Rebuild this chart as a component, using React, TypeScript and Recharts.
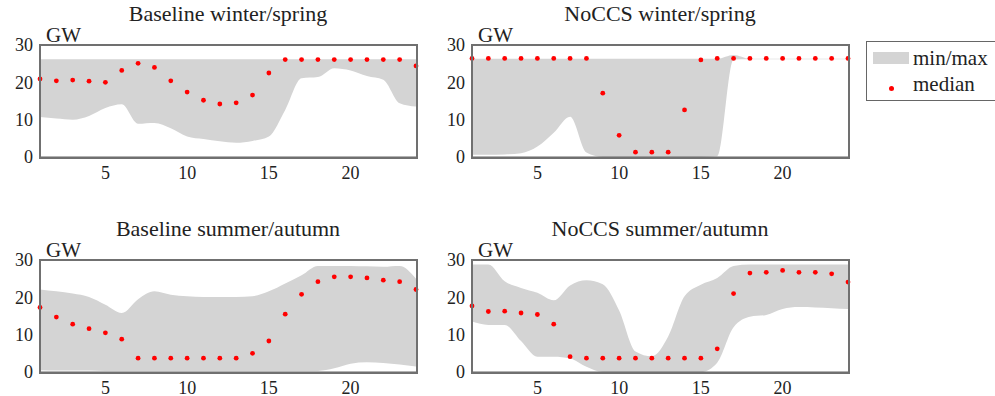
import React from 'react';
import { ComposedChart, Area, Scatter, XAxis, YAxis, Legend } from 'recharts';

// hour of day
const hours = [1, 2, 3, 4, 5, 6, 7, 8, 9, 10, 11, 12, 13, 14, 15, 16, 17, 18, 19, 20, 21, 22, 23, 24];
const xTicks = [5, 10, 15, 20];
const yTicks = [0, 10, 20, 30];

// Baseline winter/spring
const bwMin = [10.7, 10.3, 10.0, 11.0, 13.1, 14.1, 8.9, 9.1, 7.7, 5.5, 4.8, 4.2, 3.8, 4.3, 5.5, 12.6, 21.1, 21.4, 23.8, 23.2, 21.7, 20.7, 14.4, 13.5];
const bwMax = [26.2, 26.2, 26.2, 26.2, 26.2, 26.2, 26.2, 26.2, 26.2, 26.2, 26.2, 26.2, 26.2, 26.2, 26.2, 26.2, 26.2, 26.2, 26.2, 26.2, 26.2, 26.2, 26.2, 26.2];
const bwMed = [20.9, 20.4, 20.6, 20.3, 20.0, 23.2, 25.1, 24.0, 20.4, 17.4, 15.2, 14.2, 14.5, 16.6, 22.5, 26.1, 26.1, 26.1, 26.1, 26.1, 26.1, 26.1, 26.1, 24.4];

// NoCCS winter/spring
const nwMin = [0.6, 0.6, 0.7, 1.0, 2.8, 6.5, 10.8, 1.2, 0, 0, 0, 0, 0, 0, 0, 0.2, 26.1, 26.2, 26.2, 26.2, 26.2, 26.2, 26.2, 26.2];
const nwMax = [26.3, 26.3, 26.3, 26.3, 26.3, 26.3, 26.3, 26.3, 26.3, 26.3, 26.3, 26.3, 26.3, 26.3, 26.3, 26.3, 27.3, 26.3, 26.3, 26.3, 26.3, 26.3, 26.3, 26.3];
const nwMed = [26.4, 26.4, 26.4, 26.4, 26.4, 26.4, 26.4, 26.4, 17.1, 5.8, 1.3, 1.3, 1.3, 12.6, 26.0, 26.4, 26.4, 26.4, 26.4, 26.4, 26.4, 26.4, 26.4, 26.4];

// Baseline summer/autumn
const bsMin = [0.5, 0.4, 0.4, 0.4, 0.3, 0.3, 0.3, 0.3, 0.3, 0.3, 0.3, 0.3, 0.3, 0.3, 0.3, 0.3, 0.3, 0.3, 1.0, 2.2, 2.6, 2.4, 2.0, 1.5];
const bsMax = [22.1, 21.6, 21.0, 20.1, 18.0, 15.8, 19.5, 21.6, 20.7, 20.3, 20.1, 20.1, 20.1, 20.3, 21.6, 23.7, 25.9, 28.4, 28.4, 28.4, 28.3, 28.2, 28.4, 25.0];
const bsMed = [17.3, 14.7, 12.8, 11.6, 10.5, 8.8, 3.7, 3.7, 3.7, 3.7, 3.7, 3.7, 3.7, 5.0, 8.3, 15.5, 20.8, 24.2, 25.5, 25.5, 25.2, 24.6, 24.2, 22.1];

// NoCCS summer/autumn
const nsMin = [13.5, 12.6, 12.6, 8.3, 4.1, 4.1, 3.6, 1.4, 0, 0, 0, 0, 0, 0, 0, 2.5, 12.0, 14.8, 15.3, 16.9, 17.4, 17.3, 17.1, 16.9];
const nsMax = [28.8, 28.8, 24.3, 22.5, 21.2, 19.2, 23.2, 24.6, 23.5, 16.5, 5.5, 4.2, 9.5, 20.3, 23.4, 25.2, 28.4, 28.8, 28.8, 28.8, 28.8, 28.8, 28.8, 28.8];
const nsMed = [17.7, 16.2, 16.3, 15.8, 15.4, 12.8, 4.1, 3.7, 3.7, 3.7, 3.7, 3.7, 3.7, 3.7, 3.7, 6.2, 21.0, 26.5, 26.7, 27.2, 26.7, 26.7, 26.3, 24.1];

const FONT = '"Liberation Serif", "Times New Roman", serif';
const BAND = '#d4d4d4';
const RED = '#ff0000';
const tickText = { fill: '#222', fontSize: 18, fontFamily: FONT };

const RedDot = (p: any) => <circle cx={p.cx} cy={p.cy} r={2.4} fill={RED} />;

const LegendBox = () => (
  <div style={{ border: '1px solid #666', background: '#fff', width: 140, height: 60, fontFamily: FONT, fontSize: 21, color: '#222', boxSizing: 'border-box' }}>
    <div style={{ display: 'flex', alignItems: 'center', height: 26, marginTop: 3 }}>
      <span style={{ display: 'inline-block', width: 36, height: 12, background: BAND, marginLeft: 6, marginRight: 4 }} />
      <span>min/max</span>
    </div>
    <div style={{ display: 'flex', alignItems: 'center', height: 26 }}>
      <span style={{ display: 'inline-block', width: 36, marginLeft: 6, marginRight: 4, textAlign: 'center' }}>
        <span style={{ display: 'inline-block', width: 5, height: 5, borderRadius: 3, background: RED }} />
      </span>
      <span>median</span>
    </div>
  </div>
);

type PanelProps = { title: string; min: number[]; max: number[]; median: number[]; left: number; top: number; legend?: boolean };

const Panel = ({ title, min, max, median, left, top, legend }: PanelProps) => {
  const data = hours.map((h, i) => ({ h, range: [min[i], max[i]], median: median[i] }));
  return (
    <div style={{ position: 'absolute', left, top, width: 430, height: 185 }}>
      <ComposedChart width={430} height={185} data={data} margin={{ top: 45, right: 14, bottom: 0, left: 0 }}>
        <Area dataKey="range" type="monotone" fill={BAND} fillOpacity={1} stroke="none" isAnimationActive={false} />
        <XAxis dataKey="h" type="number" domain={[1, 24]} ticks={xTicks} stroke="#666" tickLine={false} height={28}
          tickSize={0} tickMargin={9} tick={tickText} />
        <YAxis type="number" domain={[0, 30]} ticks={yTicks} stroke="#666" tickLine={false} width={40}
          tickSize={0} tickMargin={7} tick={tickText} />
        <Scatter dataKey="median" shape={RedDot} isAnimationActive={false} />
        {legend && (
          <Legend layout="horizontal" verticalAlign="middle" align="center" content={() => <LegendBox />}
            wrapperStyle={{ position: 'absolute', left: 434, top: 41, width: 140, height: 60 }} />
        )}
      </ComposedChart>
      <div style={{ position: 'absolute', left: 39, top: 44, width: 379, height: 115, border: '2px solid #707070', boxSizing: 'border-box', zIndex: 5 }} />
      <div style={{ position: 'absolute', left: 40, width: 376, top: 3, textAlign: 'center', fontFamily: FONT, fontSize: 22, lineHeight: '22px', color: '#222', whiteSpace: 'nowrap', zIndex: 6 }}>{title}</div>
      <div style={{ position: 'absolute', left: 46, top: 25, fontFamily: FONT, fontSize: 21, lineHeight: '21px', color: '#222', zIndex: 6 }}>GW</div>
    </div>
  );
};

export default function App() {
  return (
    <div style={{ position: 'absolute', left: 0, top: 0, width: 995, height: 396, overflow: 'hidden', background: '#fff' }}>
      <Panel title="Baseline winter/spring" min={bwMin} max={bwMax} median={bwMed} left={0} top={0} />
      <Panel title="NoCCS winter/spring" min={nwMin} max={nwMax} median={nwMed} left={432} top={0} legend />
      <Panel title="Baseline summer/autumn" min={bsMin} max={bsMax} median={bsMed} left={0} top={215} />
      <Panel title="NoCCS summer/autumn" min={nsMin} max={nsMax} median={nsMed} left={432} top={215} />
    </div>
  );
}
